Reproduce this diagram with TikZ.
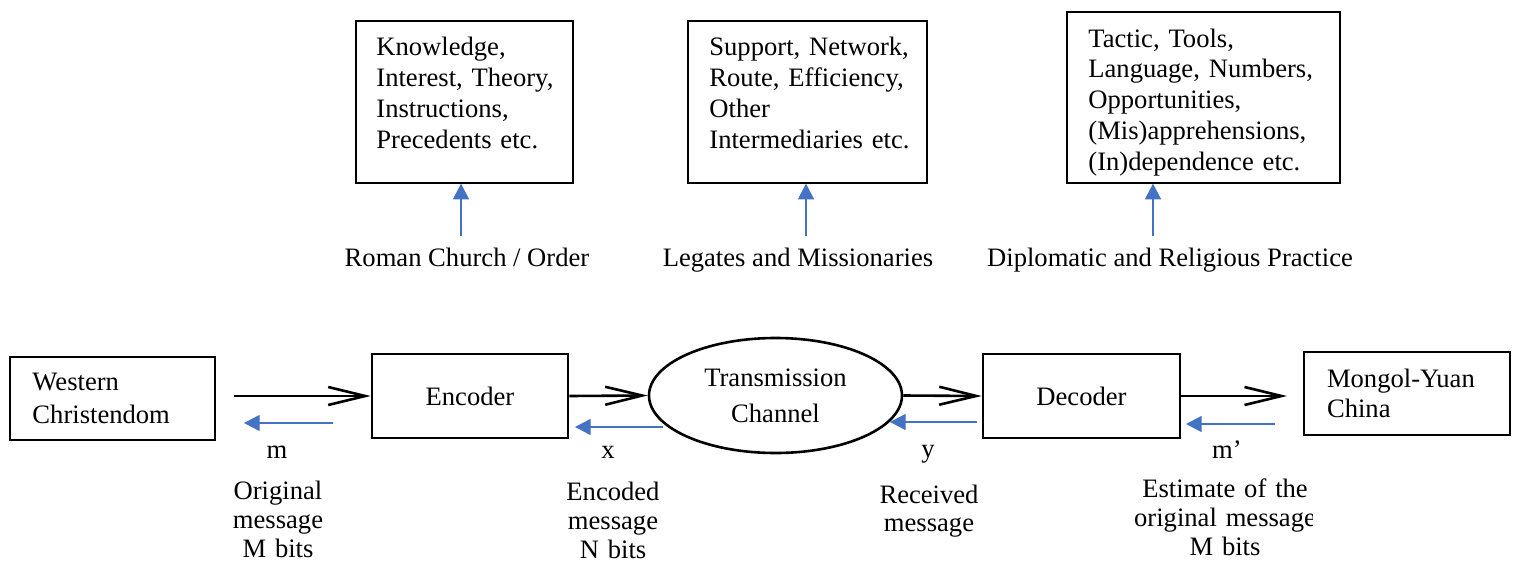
\documentclass[tikz,border=0pt]{standalone}
\usepackage{fontspec}
\setmainfont{Liberation Serif}
\usetikzlibrary{arrows.meta,shapes.geometric}
\definecolor{arrowblue}{HTML}{4472C4}
\begin{document}
\begin{tikzpicture}[x=0.5pt,y=-0.5pt,
  every node/.style={inner sep=0pt, font=\fontsize{13.3}{15.5}\selectfont},
  topbox/.style={draw, line width=0.65pt},
  boxtext/.style={anchor=base west, text width=130pt, align=left},
  endbox/.style={draw, line width=1pt, inner xsep=11pt, text width=80pt, align=left},
  midbox/.style={draw, line width=1.3pt, minimum width=98pt, minimum height=42pt},
  lbl/.style={anchor=base},
  multilbl/.style={anchor=base, text width=130pt, align=center, font=\fontsize{13.3}{14.6}\selectfont},
  flow/.style={draw, line width=1.3pt, -{Straight Barb[length=18.5pt, width=9pt, line width=1.3pt]}},
  blue/.style={draw=arrowblue, line width=0.6pt, -{Triangle[length=7.8pt, width=8pt]}, arrowblue},
]
\useasboundingbox (0,0) rectangle (1515,562);

% ---------- top row ----------
\node[topbox, minimum width=108.5pt, minimum height=81pt] (k1) at (464.5,102) {};
\node[boxtext] (k1t) at (376,55) {Knowledge,\\Interest, Theory,\\Instructions,\\Precedents etc.};
\node[topbox, minimum width=119.5pt, minimum height=81pt] (k2) at (807.5,102) {};
\node[boxtext] (k2t) at (709,55) {Support, Network,\\Route, Efficiency,\\Other\\Intermediaries etc.};
\node[topbox, minimum width=136.5pt, minimum height=85.5pt] (k3) at (1203.5,97.5) {};
\node[boxtext, font=\fontsize{13.3}{15.4}\selectfont] (k3t) at (1088,47) {Tactic, Tools,\\Language, Numbers,\\Opportunities,\\(Mis)apprehensions,\\(In)dependence etc.};

\node[lbl] (r1) at (467,266) {Roman Church / Order};
\node[lbl] (r2) at (798,266) {Legates and Missionaries};
\node[lbl] (r3) at (1170,266) {Diplomatic and Religious Practice};

\coordinate (a1) at (461,0);
\coordinate (a2) at (806,0);
\coordinate (a3) at (1153,0);
\draw[blue, shorten <=5.5pt] (r1.north -| a1) -- (k1.south -| a1);
\draw[blue, shorten <=5.5pt] (r2.north -| a2) -- (k2.south -| a2);
\draw[blue, shorten <=5.5pt] (r3.north -| a3) -- (k3.south -| a3);

% ---------- bottom row ----------
\node[endbox, minimum width=102.5pt, minimum height=41.5pt, font=\fontsize{13.3}{16.5}\selectfont] (wc) at (112.5,398.5) {Western\\Christendom};
\node[midbox] (enc) at (470,396) {Encoder};
\node[ellipse, draw, line width=1.3pt, minimum width=126.5pt, minimum height=57.5pt, align=center, font=\fontsize{13.3}{18}\selectfont] (ch) at (775.5,395.5) {Transmission\\Channel};
\node[midbox, minimum width=98.5pt] (dec) at (1081.5,396) {Decoder};
\node[endbox, minimum width=103pt, minimum height=41.5pt, inner xsep=11.5pt, text width=80pt, font=\fontsize{13.3}{15}\selectfont] (my) at (1407,393.5) {Mongol-Yuan\\China};

\coordinate (row) at (0,396);
\draw[flow, shorten <=9pt] (wc.east |- row) -- (enc.west |- row);
\draw[flow] (enc.east |- row) -- (ch.west);
\draw[flow] (ch.east) -- (dec.west |- row);
\draw[flow, shorten >=8pt] (dec.east |- row) -- (my.west |- row);

\coordinate (b1s) at (333,423);
\coordinate (b1e) at (244,423);
\coordinate (b2s) at (663,427);
\coordinate (b2e) at (575,427);
\coordinate (b3s) at (977,422);
\coordinate (b3e) at (890,422);
\coordinate (b4s) at (1275,424);
\coordinate (b4e) at (1186,424);
\draw[blue] (b1s) -- (b1e);
\draw[blue] (b2s) -- (b2e);
\draw[blue] (b3s) -- (b3e);
\draw[blue] (b4s) -- (b4e);

\node[lbl] (lm) at (277,458) {m};
\node[lbl] (lx) at (608,458) {x};
\node[lbl] (ly) at (928,457) {y};
\node[lbl] (lmp) at (1227,458) {m’};

\node[multilbl] (d1) at (278,499) {Original\\message\\M bits};
\node[multilbl] (d2) at (613,500) {Encoded\\message\\N bits};
\node[multilbl, font=\fontsize{13.3}{14.2}\selectfont] (d3) at (929,503) {Received\\message};
\begin{scope}
  \clip (1100,470) rectangle (1312,562);
  \node[multilbl] (d4) at (1225,497) {Estimate of the\\original message\\M bits};
\end{scope}
\end{tikzpicture}
\end{document}
